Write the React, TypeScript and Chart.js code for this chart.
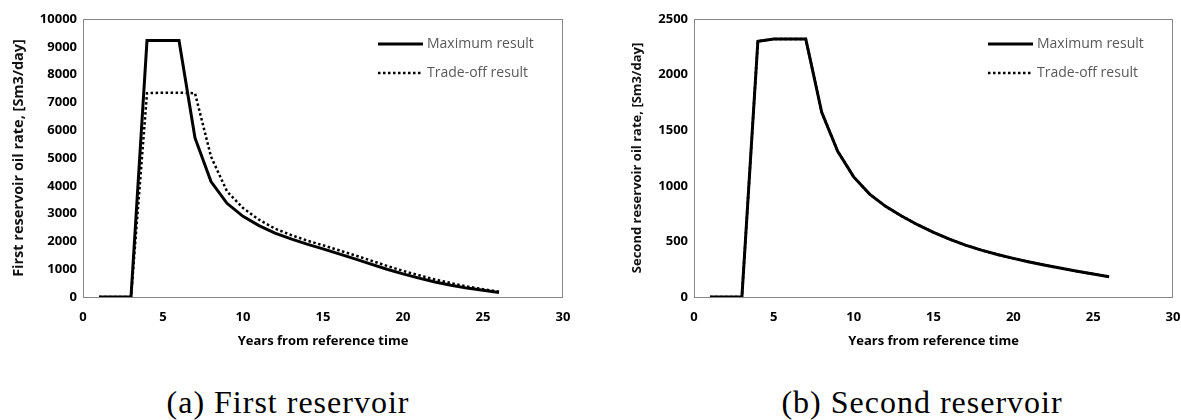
import React, { useEffect, useRef } from "react";
import { Chart, registerables } from "chart.js";

Chart.register(...registerables);

// Production profiles, one value per year from the reference time
const years = [1, 2, 3, 4, 5, 6, 7, 8, 9, 10, 11, 12, 13, 14, 15, 16, 17, 18, 19, 20, 21, 22, 23, 24, 25, 26];

const firstMaximum = [0, 0, 0, 9230, 9230, 9230, 5720, 4150, 3370, 2900, 2570, 2300, 2090, 1900, 1730, 1550, 1370, 1180, 1000, 830, 680, 540, 420, 320, 240, 160];
const firstTradeOff = [0, 0, 0, 7330, 7350, 7350, 7330, 5050, 3800, 3200, 2780, 2460, 2230, 2030, 1860, 1680, 1500, 1310, 1120, 940, 780, 630, 500, 380, 280, 190];

const secondMaximum = [0, 0, 0, 2300, 2320, 2320, 2320, 1660, 1310, 1080, 925, 815, 728, 650, 582, 520, 467, 421, 382, 347, 315, 286, 258, 232, 207, 183];
// Both strategies give the same profile for the second reservoir
const secondTradeOff = [0, 0, 0, 2300, 2320, 2320, 2320, 1660, 1310, 1080, 925, 815, 728, 650, 582, 520, 467, 421, 382, 347, 315, 286, 258, 232, 207, 183];

const seriesLabels = ["Maximum result", "Trade-off result"];
const xTicks = [0, 5, 10, 15, 20, 25, 30];
const xTitle = "Years from reference time";

const FONT = "'Open Sans', 'Noto Sans', sans-serif";

const toPoints = (ys: number[]) => years.map((x, i) => ({ x, y: ys[i] }));

// Grey frame around the plotting area
const framePlugin = {
  id: "frame",
  beforeDatasetsDraw(chart: any) {
    const { ctx, chartArea } = chart;
    ctx.save();
    ctx.strokeStyle = "#868686";
    ctx.lineWidth = 1;
    ctx.strokeRect(chartArea.left + 0.5, chartArea.top + 0.5, chartArea.right - chartArea.left - 1, chartArea.bottom - chartArea.top);
    ctx.restore();
  },
};

// Legend drawn inside the top-right corner of the plotting area
const insideLegendPlugin = {
  id: "insideLegend",
  afterDraw(chart: any) {
    const { ctx, chartArea } = chart;
    const x0 = chartArea.right - 185;
    const lineLen = 45;
    ctx.save();
    chart.data.datasets.forEach((ds: any, i: number) => {
      const y = chartArea.top + 25 + i * 29;
      ctx.beginPath();
      ctx.strokeStyle = "#000";
      ctx.lineWidth = ds.borderWidth;
      ctx.setLineDash(ds.borderDash || []);
      ctx.moveTo(x0, y);
      ctx.lineTo(x0 + lineLen, y);
      ctx.stroke();
      ctx.setLineDash([]);
      ctx.fillStyle = "#595959";
      ctx.font = `14px ${FONT}`;
      ctx.textAlign = "left";
      ctx.textBaseline = "middle";
      ctx.fillText(ds.label, x0 + lineLen + 4, y);
    });
    ctx.restore();
  },
};

type PanelProps = {
  left: number;
  width: number;
  yAxisWidth: number;
  rightPad: number;
  yMax: number;
  yStep: number;
  yTitle: string;
  yTitleSize: number;
  yTitleOffset: number;
  maximum: number[];
  tradeOff: number[];
};

function Panel(p: PanelProps) {
  const ref = useRef<HTMLCanvasElement | null>(null);

  useEffect(() => {
    if (!ref.current) return;
    const chart = new Chart(ref.current, {
      type: "line",
      data: {
        datasets: [
          {
            label: seriesLabels[0],
            data: toPoints(p.maximum),
            borderColor: "#000",
            borderWidth: 3,
            pointRadius: 0,
            tension: 0,
            fill: false,
          },
          {
            label: seriesLabels[1],
            data: toPoints(p.tradeOff),
            borderColor: "#000",
            borderWidth: 2.5,
            borderDash: [2.5, 2.5],
            pointRadius: 0,
            tension: 0,
            fill: false,
          },
        ],
      },
      options: {
        animation: false,
        responsive: false,
        devicePixelRatio: 1,
        layout: { padding: { top: 19, right: p.rightPad, bottom: 11, left: 0 } },
        plugins: { legend: { display: false }, tooltip: { enabled: false } },
        scales: {
          x: {
            type: "linear",
            min: 0,
            max: 30,
            afterBuildTicks: (scale: any) => {
              scale.ticks = xTicks.map((v) => ({ value: v }));
            },
            afterFit: (scale: any) => {
              scale.height = 52;
            },
            grid: { display: false, drawTicks: false },
            border: { display: false },
            ticks: {
              padding: 12,
              color: "#000",
              font: { family: FONT, size: 13, weight: "bold" },
              maxRotation: 0,
              callback: (v: any) => String(v),
            },
            title: {
              display: true,
              text: xTitle,
              color: "#000",
              padding: 0,
              font: { family: FONT, size: 13, weight: "bold" },
            },
          },
          y: {
            type: "linear",
            min: 0,
            max: p.yMax,
            ticks: {
              stepSize: p.yStep,
              padding: 6,
              color: "#000",
              font: { family: FONT, size: 13, weight: "bold" },
              callback: (v: any) => String(v),
            },
            afterFit: (scale: any) => {
              scale.width = p.yAxisWidth;
            },
            grid: { display: false, drawTicks: false },
            border: { display: false },
            title: {
              display: true,
              text: p.yTitle,
              color: "#111",
              padding: { top: p.yTitleOffset, bottom: 0 },
              font: { family: FONT, size: p.yTitleSize, weight: "bold" },
            },
          },
        },
      },
      plugins: [framePlugin, insideLegendPlugin],
    } as any);
    return () => chart.destroy();
  }, []);

  return (
    <canvas
      ref={ref}
      width={p.width}
      height={360}
      style={{ position: "absolute", left: p.left, top: 0, width: p.width, height: 360 }}
    />
  );
}

const captionStyle: React.CSSProperties = {
  position: "absolute",
  top: 384,
  height: 36,
  lineHeight: "36px",
  fontFamily: "'Liberation Serif', 'Times New Roman', serif",
  fontSize: 32,
  letterSpacing: 1,
  color: "#000",
  textAlign: "center",
  whiteSpace: "nowrap",
};

export default function App() {
  return (
    <div style={{ position: "fixed", left: 0, top: 0, width: 1181, height: 420, background: "#fff", overflow: "hidden" }}>
      <Panel
        left={0}
        width={590}
        yAxisWidth={83}
        rightPad={27}
        yMax={10000}
        yStep={1000}
        yTitle="First reservoir oil rate, [Sm3/day]"
        yTitleSize={14.5}
        yTitleOffset={10}
        maximum={firstMaximum}
        tradeOff={firstTradeOff}
      />
      <Panel
        left={600}
        width={600}
        yAxisWidth={94}
        rightPad={27}
        yMax={2500}
        yStep={500}
        yTitle="Second reservoir oil rate, [Sm3/day]"
        yTitleSize={13}
        yTitleOffset={29}
        maximum={secondMaximum}
        tradeOff={secondTradeOff}
      />
      <div style={{ ...captionStyle, left: 138, width: 300 }}>(a) First reservoir</div>
      <div style={{ ...captionStyle, left: 772, width: 300 }}>(b) Second reservoir</div>
    </div>
  );
}
